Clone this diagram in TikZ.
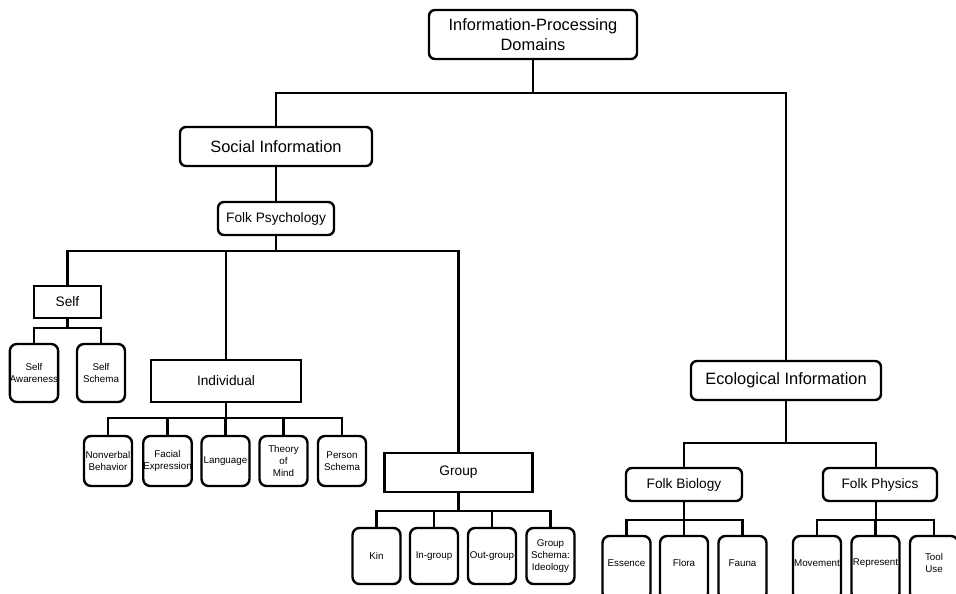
\documentclass[tikz,border=0pt]{standalone}
\usepackage{fontspec}
\setmainfont{Liberation Sans}
\begin{document}
\begin{tikzpicture}[x=1pt,y=-1pt,
  base/.style={draw=black, line width=2.4pt, inner sep=0pt, align=center, text=black},
  big/.style={base, rounded corners=6pt, font=\fontsize{16.4}{19.5}\selectfont},
  mid/.style={base, rounded corners=6pt, font=\fontsize{13.7}{16}\selectfont},
  midsq/.style={base, font=\fontsize{13.7}{16}\selectfont},
  leaf/.style={base, rounded corners=7pt, minimum width=48, font=\fontsize{9.8}{12.3}\selectfont},
  ecoleaf/.style={base, rounded corners=7pt, minimum width=48, minimum height=64},
  lbl/.style={font=\fontsize{9.8}{12.3}\selectfont, align=center, inner sep=0pt, yshift=5pt},
  wire/.style={line width=2.4pt}]
\useasboundingbox (0,0) rectangle (956,594);
\clip (0,0) rectangle (956,594);
\fill[white] (0,0) rectangle (956,594);

% main nodes
\node[big, minimum width=208, minimum height=49] (top) at (533,34.5) {Information-Processing\\Domains};
\node[big, minimum width=192, minimum height=39] (soc) at (276,146.5) {Social Information};
\node[mid, minimum width=116, minimum height=33] (fp) at (276,218.5) {Folk Psychology};
\node[midsq, minimum width=67, minimum height=32] (self) at (67.5,302) {Self};
\node[leaf, minimum height=58] (sa) at (34,373) {Self\\Awareness};
\node[leaf, minimum height=58] (ss) at (101,373) {Self\\Schema};
\node[midsq, minimum width=150, minimum height=42] (ind) at (226,381) {Individual};
\node[leaf, minimum height=50] (nv) at (108,461) {Nonverbal\\Behavior};
\node[leaf, minimum height=50] (fe) at (167.5,461) {Facial\\Expression};
\node[leaf, minimum height=50] (la) at (225.5,461) {Language};
\node[leaf, minimum height=50] (tm) at (283.5,461) {Theory\\of\\Mind};
\node[leaf, minimum height=50] (ps) at (342,461) {Person\\Schema};
\node[midsq, minimum width=148, minimum height=39] (grp) at (458.5,472.5) {Group};
\node[leaf, minimum height=56] (kin) at (376.5,556) {Kin};
\node[leaf, minimum height=56] (ing) at (434,556) {In-group};
\node[leaf, minimum height=56] (outg) at (492,556) {Out-group};
\node[leaf, minimum height=56] (gsi) at (550.5,556) {Group\\Schema:\\Ideology};
\node[big, minimum width=190, minimum height=39] (eco) at (786,380.5) {Ecological Information};
\node[mid, minimum width=116, minimum height=33] (fb) at (684,484.5) {Folk Biology};
\node[mid, minimum width=114, minimum height=33] (fph) at (880,484.5) {Folk Physics};
\node[ecoleaf, label={[lbl]center:Essence}] (ess) at (626.5,568) {};
\node[ecoleaf, label={[lbl]center:Flora}] (flo) at (684,568) {};
\node[ecoleaf, label={[lbl]center:Fauna}] (fau) at (742.5,568) {};
\node[ecoleaf, label={[lbl]center:Movement}] (mov) at (817,568) {};
\node[ecoleaf, label={[lbl]center:Represent}] (rep) at (875.5,568) {};
\node[ecoleaf, label={[lbl]center:Tool\\Use}] (tool) at (934,568) {};

% connectors
\draw[wire] (top.south) -- (top.south |- 0,93);
\draw[wire] (soc.north) |- (eco.north |- 0,93) -- (eco.north);

\draw[wire] (soc.south) -- (fp.north);

\draw[wire] (fp.south) -- (fp.south |- 0,251);
\draw[wire] (self.north) |- (grp.north |- 0,251) -- (grp.north);
\draw[wire] (ind.north) -- (ind.north |- 0,251);

\draw[wire] (self.south) -- (self.south |- 0,328);
\draw[wire] (sa.north) |- (ss.north |- 0,328) -- (ss.north);

\draw[wire] (ind.south) -- (ind.south |- 0,418);
\draw[wire] (nv.north) |- (ps.north |- 0,418) -- (ps.north);
\draw[wire] (fe.north) -- (fe.north |- 0,418);
\draw[wire] (la.north) -- (la.north |- 0,418);
\draw[wire] (tm.north) -- (tm.north |- 0,418);

\draw[wire] (grp.south) -- (grp.south |- 0,511);
\draw[wire] (kin.north) |- (gsi.north |- 0,511) -- (gsi.north);
\draw[wire] (ing.north) -- (ing.north |- 0,511);
\draw[wire] (outg.north) -- (outg.north |- 0,511);

\draw[wire] (eco.south) -- (eco.south |- 0,443);
\draw[wire] (fb.north) |- ([xshift=-4pt]fph.north |- 0,443) -- ([xshift=-4pt]fph.north);

\draw[wire] (fb.south) -- (fb.south |- 0,520);
\draw[wire] (ess.north) |- (fau.north |- 0,520) -- (fau.north);
\draw[wire] (flo.north) -- (flo.north |- 0,520);

\draw[wire] ([xshift=-4pt]fph.south) -- ([xshift=-4pt]fph.south |- 0,520);
\draw[wire] (mov.north) |- (tool.north |- 0,520) -- (tool.north);
\draw[wire] (rep.north) -- (rep.north |- 0,520);
\end{tikzpicture}
\end{document}
